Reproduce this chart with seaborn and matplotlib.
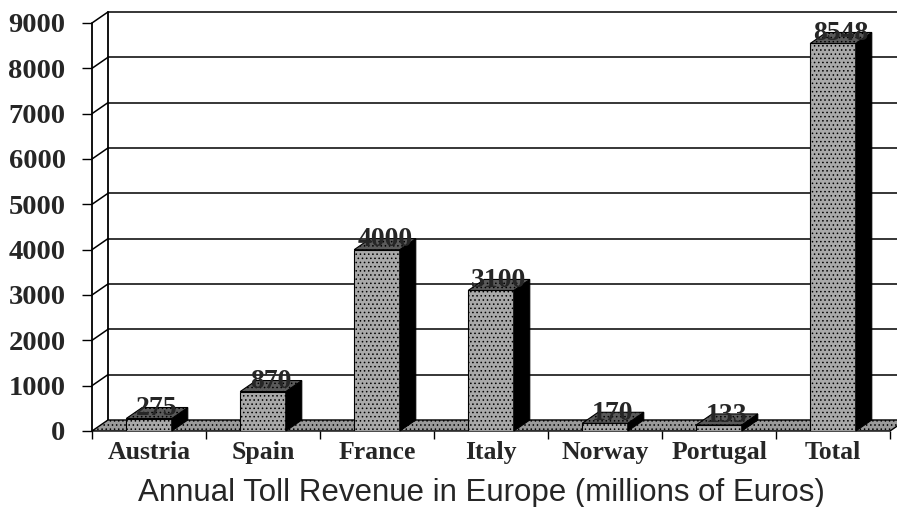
import matplotlib
matplotlib.use("Agg")
import matplotlib.pyplot as plt
from matplotlib.patches import Polygon
import seaborn as sns
import pandas as pd

# Daten
countries = ["Austria", "Spain", "France", "Italy", "Norway", "Portugal", "Total"]
revenue = [275, 870, 4000, 3100, 170, 133, 8548]
y_ticks = [0, 1000, 2000, 3000, 4000, 5000, 6000, 7000, 8000, 9000]
x_title = "Annual Toll Revenue in Europe (millions of Euros)"

df = pd.DataFrame({"country": countries, "revenue": revenue})

sns.set_style("white")
plt.rcParams["hatch.color"] = "#808080"
plt.rcParams["hatch.linewidth"] = 0.6

fig = plt.figure(figsize=(8.97, 5.07), dpi=100)
ax = fig.add_axes([92 / 897, 76 / 507, 798 / 897, 408 / 507])

sns.barplot(data=df, x="country", y="revenue", color="#a9a9a9",
            saturation=1, width=0.4, edgecolor="black", linewidth=0.8,
            ax=ax, zorder=3)

n = len(countries)
ax.set_xlim(-0.5, n - 0.5)
ax.set_ylim(0, 9000)

# 3D-Versatz (Tiefe) in Dateneinheiten
ddx = 0.14
ddy = 243

# Rückwand: Gitterlinien und Diagonalen
for v in y_ticks[1:]:
    ax.plot([-0.5 + ddx, n - 0.5 + 0.5], [v + ddy, v + ddy], color="black",
            lw=1.1, zorder=0, clip_on=False)
    ax.plot([-0.5, -0.5 + ddx], [v, v + ddy], color="black", lw=1.1,
            zorder=0, clip_on=False)
ax.plot([-0.5 + ddx, -0.5 + ddx], [ddy, 9000 + ddy], color="black", lw=1.3,
        zorder=0, clip_on=False)
ax.plot([-0.5, -0.5], [0, 9000], color="black", lw=1.3, zorder=1, clip_on=False)

# Boden
floor = Polygon([(-0.5, 0), (n - 0.5, 0), (n - 0.5 + ddx, ddy), (-0.5 + ddx, ddy)],
                closed=True, facecolor="#9a9a9a", edgecolor="black", lw=1,
                hatch="....", zorder=1, clip_on=False)
ax.add_patch(floor)

# Balken: Seiten, Deckflächen und Werte
for bar, val in zip(ax.patches[:n], revenue):
    x0 = bar.get_x()
    w = bar.get_width()
    h = bar.get_height()
    bar.set_hatch("....")
    side = Polygon([(x0 + w, 0), (x0 + w + ddx, ddy), (x0 + w + ddx, h + ddy), (x0 + w, h)],
                   closed=True, facecolor="black", edgecolor="black", lw=0.8,
                   zorder=3, clip_on=False)
    top = Polygon([(x0, h), (x0 + ddx, h + ddy), (x0 + w + ddx, h + ddy), (x0 + w, h)],
                  closed=True, facecolor="#5a5a5a", edgecolor="black", lw=0.8,
                  hatch="....", zorder=3, clip_on=False)
    ax.add_patch(side)
    ax.add_patch(top)
    ax.text(x0 + w / 2 + ddx / 2, h + ddy * 0.9, str(val), ha="center", va="center",
            fontsize=20, fontweight="bold", family="Liberation Serif", zorder=4)

for s in ax.spines.values():
    s.set_visible(False)

ax.set_yticks(y_ticks)
ax.set_yticklabels([str(t) for t in y_ticks], fontsize=20.5, fontweight="bold",
                   family="Liberation Serif")
ax.tick_params(axis="y", left=True, length=7, width=1, pad=12, color="black")

ax.set_xticks(range(n))
ax.set_xticklabels(countries, fontsize=18.5, fontweight="bold", family="Liberation Serif")
ax.set_xticks([i - 0.5 for i in range(n + 1)], minor=True)
ax.tick_params(axis="x", which="major", length=0, pad=7)
ax.tick_params(axis="x", which="minor", bottom=True, length=6, width=1, color="black")

ax.set_xlabel(x_title, fontsize=22.5, family="Liberation Sans", labelpad=10)
ax.xaxis.label.set_x(0.4875)
ax.set_ylabel("")

fig.savefig("out.png", dpi=100)
